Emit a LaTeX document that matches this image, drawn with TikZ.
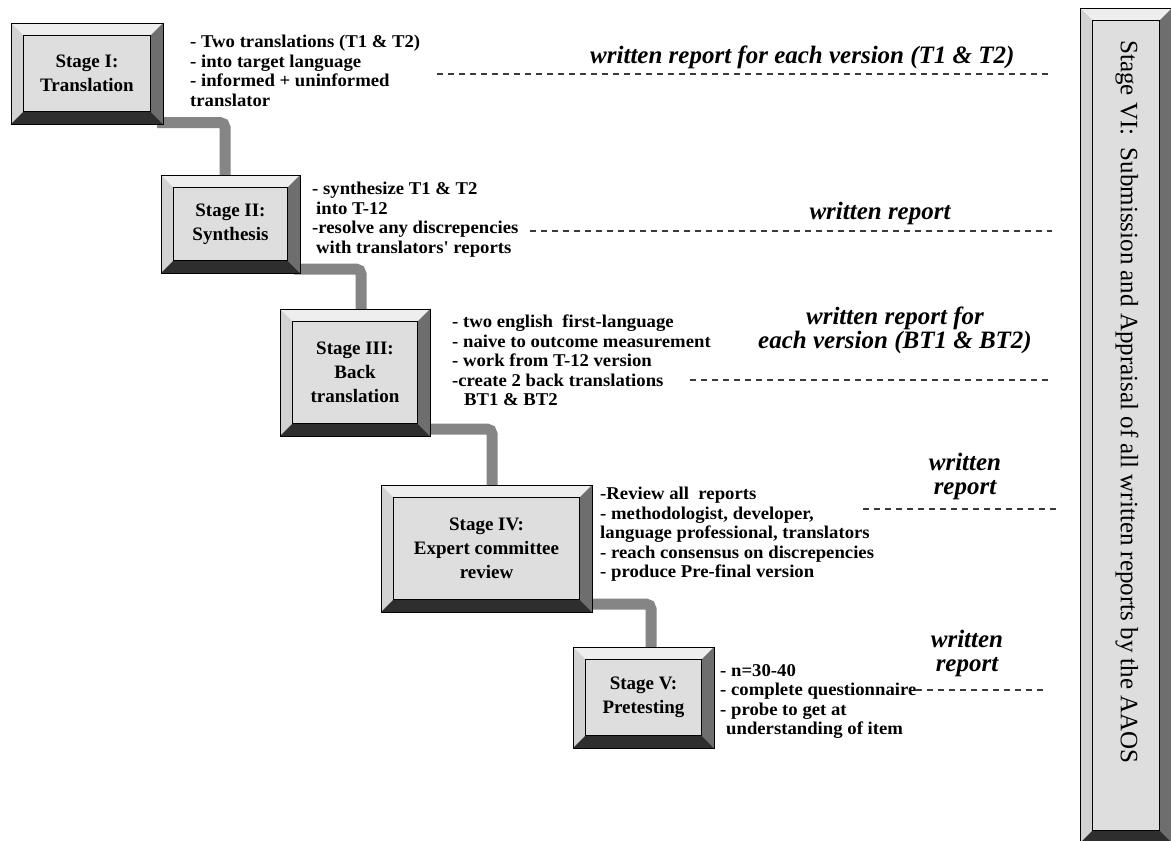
\documentclass[tikz,border=0pt]{standalone}
\usepackage{fontspec}
\setmainfont{Liberation Serif}
\newfontfamily\notefamily{Liberation Serif}[FakeStretch=1.04]
\usetikzlibrary{calc}

\definecolor{facegray}{HTML}{DEDEDE}
\definecolor{bevtop}{HTML}{EEEEEE}
\definecolor{bevleft}{HTML}{D2D2D2}
\definecolor{bevright}{HTML}{6E6E6E}
\definecolor{bevbottom}{HTML}{2E2E2E}
\definecolor{pipegray}{HTML}{858585}
\definecolor{dashgray}{HTML}{3A3A3A}

\pgfdeclarelayer{paper}
\pgfdeclarelayer{pipes}
\pgfsetlayers{paper,pipes,main}

% bevel thickness of the raised frames
\def\bv{12.5pt}
% paints the four bevels and the inner face outline of a raised frame
\newcommand\bevelpaint{%
  \coordinate (bsw) at (path picture bounding box.south west);
  \coordinate (bne) at (path picture bounding box.north east);
  \coordinate (bnw) at (path picture bounding box.north west);
  \coordinate (bse) at (path picture bounding box.south east);
  \fill[bevtop] (bnw) -- (bne) -- ([shift={(-\bv,-\bv)}]bne) -- ([shift={(\bv,-\bv)}]bnw) -- cycle;
  \fill[bevleft] (bnw) -- ([shift={(\bv,-\bv)}]bnw) -- ([shift={(\bv,\bv)}]bsw) -- (bsw) -- cycle;
  \fill[bevright] (bne) -- (bse) -- ([shift={(-\bv,\bv)}]bse) -- ([shift={(-\bv,-\bv)}]bne) -- cycle;
  \fill[bevbottom] (bsw) -- (bse) -- ([shift={(-\bv,\bv)}]bse) -- ([shift={(\bv,\bv)}]bsw) -- cycle;
  \draw[black, line width=0.8pt] ([shift={(\bv,\bv)}]bsw) rectangle ([shift={(-\bv,-\bv)}]bne);
}

\tikzset{
  stagebox/.style={rectangle, draw=black, line width=0.8pt, fill=facegray,
    inner sep=0pt, outer sep=0pt, align=center,
    font=\fontsize{19}{24}\selectfont\bfseries, path picture={\bevelpaint}},
  pipe/.style={draw=pipegray, line width=11pt, rounded corners=5pt},
  notes/.style={anchor=north west, inner sep=0pt, align=left,
    font=\notefamily\fontsize{18}{19.5}\selectfont\bfseries},
  reportnote/.style={inner sep=0pt, align=center,
    font=\fontsize{25}{24}\selectfont\bfseries\itshape},
  reportline/.style={draw=dashgray, line width=1.2pt, dash pattern=on 6pt off 5pt},
}

\begin{document}
\begin{tikzpicture}[x=1pt,y=-1pt]
\useasboundingbox (0,0) rectangle (1171,841);
\clip (0,0) rectangle (1171,841);
\begin{pgfonlayer}{paper}
  \fill[white] (0,0) rectangle (1171,841);
\end{pgfonlayer}

% stage frames
\path
  (87,73.5)     node[stagebox, minimum width=152pt, minimum height=101pt] (s1) {Stage I:\\Translation}
  (230.5,224)   node[stagebox, minimum width=139pt, minimum height=98pt]  (s2) {Stage II:\\Synthesis}
  (355,372.5)   node[stagebox, minimum width=150pt, minimum height=127pt] (s3) {Stage III:\\Back\\translation}
  (486.5,548.5) node[stagebox, minimum width=211pt, minimum height=127pt] (s4) {Stage IV:\\Expert committee\\review}
  (643.5,697.5) node[stagebox, minimum width=141pt, minimum height=101pt] (s5) {Stage V:\\Pretesting};

% pipes between consecutive stages, tucked under the frames
\begin{pgfonlayer}{pipes}
\draw[pipe] ([xshift=-6pt,yshift=1.5pt]s1.south east) -| ([xshift=64pt,yshift=-6pt]s2.north west);
\draw[pipe] ([xshift=-6pt,yshift=4pt]s2.south east) -| ([xshift=81pt,yshift=-6pt]s3.north west);
\draw[pipe] ([xshift=-6pt,yshift=7pt]s3.south east) -| ([xshift=111pt,yshift=-6pt]s4.north west);
\draw[pipe] ([xshift=-6pt,yshift=8pt]s4.south east) -| ([xshift=78pt,yshift=-6pt]s5.north west);
\end{pgfonlayer}

% Stage VI column
\node[stagebox, minimum width=92pt, minimum height=835pt] (s6) at (1126,425.5) {};
\node[rotate=-90, anchor=west, inner sep=0pt, font=\fontsize{25}{30}\selectfont] (s6label) at (1127,40)
  {Stage VI:\ \ Submission and Appraisal of all written reports by the AAOS};

% stage notes
\node[notes] (n1) at (190,35) {- Two translations (T1 \& T2)\\- into target language\\- informed + uninformed\\translator};
\node[notes] (n2) at (312,182) {- synthesize T1 \& T2\\\hspace*{4pt}into T-12\\-resolve any discrepencies\\\hspace*{4pt}with translators' reports};
\node[notes] (n3) at (452,315) {- two english\ \ first-language\\- naive to outcome measurement\\- work from T-12 version\\-create 2 back translations\\\hspace*{12pt}BT1 \& BT2};
\node[notes] (n4) at (600,487) {-Review all\ \ reports\\- methodologist, developer,\\language professional, translators\\- reach consensus on discrepencies\\- produce Pre-final version};
\node[notes] (n5) at (720,664) {- n=30-40\\- complete questionnaire\\- probe to get at\\\hspace*{6pt}understanding of item};

% written report remarks
\node[reportnote, anchor=base west] (w1) at (590,63) {written report for each version (T1 \& T2)};
\node[reportnote, anchor=base] (w2) at (880,219) {written report};
\node[reportnote, anchor=north] (w3) at (895,307) {written report for\\each version (BT1 \& BT2)};
\node[reportnote, anchor=north] (w4) at (965,453) {written\\report};
\node[reportnote, anchor=north] (w5) at (967,630) {written\\report};

% dashed report lines
\coordinate (d1a) at (437,74);  \coordinate (d1b) at (1052,74);
\coordinate (d2a) at (530,231); \coordinate (d2b) at (1052,231);
\coordinate (d3a) at (690,380); \coordinate (d3b) at (1052,380);
\coordinate (d4a) at (863,509); \coordinate (d4b) at (1057,509);
\coordinate (d5a) at (916,690); \coordinate (d5b) at (1045,690);
\draw[reportline] (d1a) -- (d1b);
\draw[reportline] (d2a) -- (d2b);
\draw[reportline] (d3a) -- (d3b);
\draw[reportline] (d4a) -- (d4b);
\draw[reportline] (d5a) -- (d5b);
\end{tikzpicture}
\end{document}
